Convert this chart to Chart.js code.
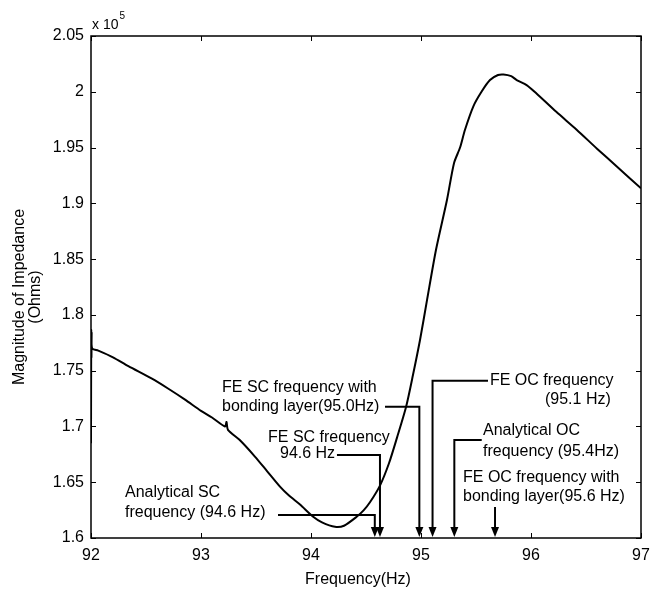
<!DOCTYPE html>
<html><head><meta charset="utf-8">
<script src="https://cdn.jsdelivr.net/npm/chart.js@4.4.0/dist/chart.umd.min.js"></script>
<style>html,body{margin:0;padding:0;background:#fff;}#wrap{width:659px;height:589px;}</style>
</head><body><div id="wrap"><canvas id="c" width="659" height="589"></canvas></div>
<script>
// Frequency (Hz)
const freqHz = [92.000, 92.002, 92.004, 92.006, 92.010, 92.066, 92.20, 92.34, 92.55, 92.70,
  92.855, 93.00, 93.10, 93.218, 93.232, 93.245, 93.35, 93.49, 93.60, 93.718,
  93.80, 93.90, 94.02, 94.10, 94.218, 94.30, 94.415, 94.48, 94.536, 94.627,
  94.709, 94.782, 94.864, 94.927, 94.991, 95.055, 95.136, 95.236, 95.30, 95.355,
  95.40, 95.476, 95.55, 95.627, 95.70, 95.75, 95.82, 95.87, 95.96, 96.05,
  96.23, 96.415, 96.60, 96.78, 97.00];
// Magnitude of impedance (x 10^5 Ohms)
const impedance = [1.685, 1.786, 1.762, 1.784, 1.770, 1.768, 1.762, 1.754, 1.743, 1.734,
  1.724, 1.714, 1.708, 1.700, 1.704, 1.697, 1.688, 1.673, 1.660, 1.646,
  1.638, 1.630, 1.619, 1.614, 1.610, 1.611, 1.619, 1.625, 1.632, 1.647,
  1.667, 1.690, 1.7174, 1.7461, 1.7775, 1.8134, 1.8582, 1.903, 1.936, 1.950,
  1.966, 1.987, 2.000, 2.0105, 2.015, 2.0155, 2.014, 2.0105, 2.006, 1.9985,
  1.982, 1.966, 1.949, 1.933, 1.9135];
const xTicks = [92, 93, 94, 95, 96, 97];
const yTicks = [1.6, 1.65, 1.7, 1.75, 1.8, 1.85, 1.9, 1.95, 2.0, 2.05];
// Arrow target frequencies (Hz)
const arrowFreqs = [94.58, 94.627, 94.985, 95.105, 95.303, 95.673];
const annotationLines = [
  ["Analytical SC", "frequency (94.6 Hz)"],
  ["FE SC frequency", "94.6 Hz"],
  ["FE SC frequency with", "bonding layer(95.0Hz)"],
  ["FE OC frequency", "(95.1 Hz)"],
  ["Analytical OC", "frequency (95.4Hz)"],
  ["FE OC frequency with", "bonding layer(95.6 Hz)"]
];

// Layout of annotations in data units (text anchors and connector elbows)
const annotLayout = [
  {text: [[92.309, 1.6404], [92.309, 1.6224]], elbow: {fromX: 93.70, y: 1.6206}},
  {text: [[93.609, 1.6897], [93.718, 1.6753]], elbow: {fromX: 94.236, y: 1.6744}},
  {text: [[93.191, 1.7345], [93.191, 1.7174]], elbow: {fromX: 94.673, y: 1.7177}},
  {text: [[95.627, 1.7407], [96.127, 1.7237]], elbow: {fromX: 95.609, y: 1.7410}},
  {text: [[95.564, 1.6959], [95.564, 1.6771]], elbow: {fromX: 95.552, y: 1.6879}},
  {text: [[95.382, 1.6538], [95.382, 1.6368]], elbow: {fromX: null, y: 1.6278}}
];

const FONT = '"Liberation Sans", Arial, Helvetica, sans-serif';

const decor = {
  id: 'decor',
  afterDatasetsDraw(chart) {
    const {ctx, chartArea: a, scales: {x, y}} = chart;
    ctx.save();
    ctx.strokeStyle = '#000';
    ctx.fillStyle = '#000';
    // frame
    ctx.lineWidth = 1.5;
    ctx.strokeRect(a.left, a.top, a.right - a.left, a.bottom - a.top);
    // inward ticks
    const tl = 5;
    ctx.lineWidth = 1;
    ctx.beginPath();
    x.ticks.forEach(t => {
      const px = Math.round(x.getPixelForValue(t.value)) + 0.5;
      ctx.moveTo(px, a.bottom); ctx.lineTo(px, a.bottom - tl);
      ctx.moveTo(px, a.top); ctx.lineTo(px, a.top + tl);
    });
    y.ticks.forEach(t => {
      const py = Math.round(y.getPixelForValue(t.value)) + 0.5;
      ctx.moveTo(a.left, py); ctx.lineTo(a.left + tl, py);
      ctx.moveTo(a.right, py); ctx.lineTo(a.right - tl, py);
    });
    ctx.stroke();

    // annotations
    ctx.font = '16px ' + FONT;
    ctx.textBaseline = 'middle';
    ctx.textAlign = 'left';
    annotLayout.forEach((L, i) => {
      L.text.forEach((p, j) => {
        ctx.fillText(annotationLines[i][j], x.getPixelForValue(p[0]), y.getPixelForValue(p[1]));
      });
      const ax = x.getPixelForValue(arrowFreqs[i]);
      const ey = y.getPixelForValue(L.elbow.y);
      const tipY = a.bottom - 1;
      ctx.lineWidth = 2;
      ctx.beginPath();
      if (L.elbow.fromX !== null) {
        ctx.moveTo(x.getPixelForValue(L.elbow.fromX), ey);
        ctx.lineTo(ax, ey);
      } else {
        ctx.moveTo(ax, ey);
      }
      ctx.lineTo(ax, tipY - 8);
      ctx.stroke();
      ctx.beginPath();
      ctx.moveTo(ax, tipY);
      ctx.lineTo(ax - 4, tipY - 10);
      ctx.lineTo(ax + 4, tipY - 10);
      ctx.closePath();
      ctx.fill();
    });

    // exponent label
    ctx.textBaseline = 'alphabetic';
    ctx.font = '14px ' + FONT;
    ctx.fillText('x 10', a.left + 1, a.top - 7);
    const w = ctx.measureText('x 10').width;
    ctx.font = '10px ' + FONT;
    ctx.fillText('5', a.left + 2 + w, a.top - 17);

    // axis titles
    ctx.font = '16px ' + FONT;
    ctx.textAlign = 'center';
    ctx.textBaseline = 'middle';
    ctx.fillText('Frequency(Hz)', (a.left + a.right) / 2 - 8, 580);
    ctx.translate(0, 297);
    ctx.rotate(-Math.PI / 2);
    ctx.fillText('Magnitude of Impedance', 0, 20);
    ctx.fillText('(Ohms)', 0, 36);
    ctx.restore();
  }
};

new Chart(document.getElementById('c'), {
  type: 'line',
  data: {
    datasets: [{
      data: freqHz.map((f, i) => ({x: f, y: impedance[i]})),
      borderColor: '#000',
      borderWidth: 2,
      pointRadius: 0,
      tension: 0.25,
      fill: false
    }]
  },
  options: {
    responsive: false,
    animation: false,
    devicePixelRatio: 1,
    layout: {padding: {top: 36, right: 18, left: 0, bottom: 0}},
    plugins: {legend: {display: false}, tooltip: {enabled: false}},
    scales: {
      x: {
        type: 'linear', min: 92, max: 97,
        afterBuildTicks: s => { s.ticks = xTicks.map(v => ({value: v})); },
        grid: {display: false, drawTicks: false},
        border: {display: false},
        ticks: {color: '#000', font: {family: FONT, size: 16}, padding: 8, maxRotation: 0, autoSkip: false},
        afterFit: s => { s.height = 51; }
      },
      y: {
        type: 'linear', min: 1.6, max: 2.05,
        afterBuildTicks: s => { s.ticks = yTicks.map(v => ({value: v})); },
        grid: {display: false, drawTicks: false},
        border: {display: false},
        ticks: {color: '#000', font: {family: FONT, size: 16}, padding: 7, autoSkip: false,
          callback: v => String(+(+v).toFixed(2))},
        afterFit: s => { s.width = 91; }
      }
    }
  },
  plugins: [decor]
});
</script>
</body></html>
